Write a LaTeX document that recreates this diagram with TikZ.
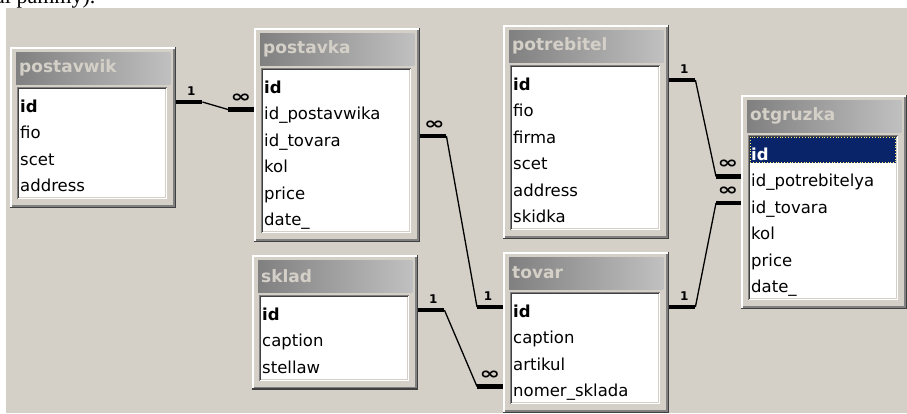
\documentclass[tikz,border=0pt]{standalone}
\usepackage{fontspec}
\usepackage{graphicx}
\setmainfont{DejaVu Sans}
\newfontfamily\docserif{Liberation Serif}
\usetikzlibrary{calc}

\definecolor{winbg}{HTML}{D4D0C8}
\definecolor{shadowgrey}{HTML}{808080}
\definecolor{darkshadow}{HTML}{404040}
\definecolor{capleft}{HTML}{808080}
\definecolor{capright}{HTML}{C0C0C0}
\definecolor{selbg}{HTML}{0A246A}

\newcommand\manysign{\scalebox{1.9}[1.3]{∞}}

\tikzset{
  tableframe/.style={inner sep=0pt, minimum width=166pt},
  listbox/.style={inner sep=0pt, minimum width=150pt, fill=white},
  tabletitle/.style={inner sep=0pt, text=winbg, font=\bfseries\fontsize{17}{17}\selectfont},
  rowtext/.style={inner sep=0pt, text width=146pt, align=left, text height=22pt, text depth=2pt,
    font=\fontsize{16.5}{18}\selectfont},
  relbar/.style={line width=4.5pt, line cap=butt, black},
  relline/.style={line width=1.3pt, black},
  cardone/.style={inner sep=0pt, font=\bfseries\fontsize{12}{12}\selectfont},
  cardmany/.style={inner sep=0pt, font=\bfseries\fontsize{13}{13}\selectfont},
}

% #1 name, #2 x, #3 y (top), #4 title, #5 number of rows, #6 rows, #7 selected row (0 = none)
\newcommand\dbtable[7]{%
  \pgfmathsetmacro\frameh{55+26.5*#5}%
  \pgfmathsetmacro\listh{26.5*#5+6}%
  \node[tableframe, minimum height=\frameh pt, anchor=north west] (#1) at (#2,#3) {};
  % raised window frame
  \fill[winbg] (#1.north west) rectangle (#1.south east);
  \draw[white, line width=1.5pt] ($(#1.south west)+(0.75,-1.5)$) |- ($(#1.north east)+(-1.5,0.75)$);
  \draw[darkshadow, line width=1.5pt] ($(#1.south west)+(0,-0.75)$) -| ($(#1.north east)+(-0.75,0)$);
  \draw[shadowgrey, line width=1.5pt] ($(#1.south west)+(1.5,-2.25)$) -| ($(#1.north east)+(-2.25,1.5)$);
  % caption bar
  \shade[left color=capleft, right color=capright] ($(#1.north west)+(6,5)$) rectangle ($(#1.north east)+(-6,37)$);
  \node[tabletitle, anchor=west] (#1-title) at ($(#1.north west)+(9,21)$) {#4};
  % sunken field list
  \node[listbox, minimum height=\listh pt, anchor=north west] (#1-list) at ($(#1.north west)+(7,40)$) {};
  \draw[white, line width=1pt] ($(#1-list.south west)+(0,-0.5)$) -| ($(#1-list.north east)+(-0.5,0)$);
  \draw[winbg, line width=1pt] ($(#1-list.south west)+(1,-1.5)$) -| ($(#1-list.north east)+(-1.5,1)$);
  \draw[shadowgrey, line width=1pt] ($(#1-list.south west)+(0.5,0)$) |- ($(#1-list.north east)+(0,0.5)$);
  \draw[darkshadow, line width=1pt] ($(#1-list.south west)+(1.5,-1)$) |- ($(#1-list.north east)+(-1,1.5)$);
  \foreach \txt [count=\i] in {#6} {
    \ifnum\i=#7
      \fill[selbg] ($(#1-list.north west)+(2,{2+26.5*(\i-1)})$) rectangle ++(146,26);
      \draw[yellow!55!white, dotted, line width=0.8pt] ($(#1-list.north west)+(2.4,{2.4+26.5*(\i-1)})$) rectangle ++(145.2,25.2);
      \def\rowcol{white}
    \else
      \def\rowcol{black}
    \fi
    \node[rowtext, text=\rowcol, anchor=west] (#1-\i) at ($(#1-list.north west)+(3,{15+26.5*(\i-1)})$)
      {\ifnum\i=1 \bfseries\fi\txt};
  }
}

\begin{document}
\begin{tikzpicture}[x=1pt, y=-1pt]
  \useasboundingbox (0,0) rectangle (907,413);
  \fill[white] (0,0) rectangle (907,413);
  \fill[winbg] (6,8) rectangle (907,413);
  % last line of the running text above the figure
  \begin{scope}
    \clip (0,0) rectangle (907,8);
    \node[anchor=base west, inner sep=0pt, font=\docserif\fontsize{22}{22}\selectfont] (runningtext) at (-5,3) {al pammy).};
  \end{scope}

  \dbtable{postavwik}{10}{47}{postavwik}{4}{id,fio,scet,address}{0}
  \dbtable{postavka}{254}{28}{postavka}{6}{id,id\_postavwika,id\_tovara,kol,price,date\_}{0}
  \dbtable{potrebitel}{503}{25}{potrebitel}{6}{id,fio,firma,scet,address,skidka}{0}
  \dbtable{otgruzka}{741}{95}{otgruzka}{6}{id,id\_potrebitelya,id\_tovara,kol,price,date\_}{1}
  \dbtable{sklad}{252}{255}{sklad}{3}{id,caption,stellaw}{0}
  \dbtable{tovar}{503}{252}{tovar}{4}{id,caption,artikul,nomer\_sklada}{0}

  % postavwik.id 1 -- oo postavka.id_postavwika
  \draw[relbar] (postavwik-1.east -| postavwik.east) -- ++(26,0) coordinate (r1a);
  \draw[relbar] (postavka-2.west -| postavka.west) -- ++(-26,0) coordinate (r1b);
  \draw[relline] (r1a) -- (r1b);
  \node[cardone] (r1-one) at ($(r1a)+(-11,-11)$) {1};
  \node[cardmany] (r1-many) at ($(r1b)+(13,-11)$) {\manysign};

  % postavka.id_tovara oo -- 1 tovar.id
  \draw[relbar] (postavka-3.east -| postavka.east) -- ++(26,0) coordinate (r2a);
  \draw[relbar] (tovar-1.west -| tovar.west) -- ++(-26,0) coordinate (r2b);
  \draw[relline] (r2a) -- (r2b);
  \node[cardmany] (r2-many) at ($(r2a)+(-12,-11)$) {\manysign};
  \node[cardone] (r2-one) at ($(r2b)+(11,-11)$) {1};

  % sklad.id 1 -- oo tovar.nomer_sklada
  \draw[relbar] (sklad-1.east -| sklad.east) -- ++(26,0) coordinate (r3a);
  \draw[relbar] (tovar-4.west -| tovar.west) -- ++(-26,0) coordinate (r3b);
  \draw[relline] (r3a) -- (r3b);
  \node[cardone] (r3-one) at ($(r3a)+(-11,-11)$) {1};
  \node[cardmany] (r3-many) at ($(r3b)+(13,-11)$) {\manysign};

  % potrebitel.id 1 -- oo otgruzka.id_potrebitelya
  \draw[relbar] (potrebitel-1.east -| potrebitel.east) -- ++(26,0) coordinate (r4a);
  \draw[relbar] (otgruzka-2.west -| otgruzka.west) -- ++(-25,0) coordinate (r4b);
  \draw[relline] (r4a) -- (r4b);
  \node[cardone] (r4-one) at ($(r4a)+(-11,-11)$) {1};
  \node[cardmany] (r4-many) at ($(r4b)+(12,-12)$) {\manysign};

  % tovar.id 1 -- oo otgruzka.id_tovara
  \draw[relbar] (tovar-1.east -| tovar.east) -- ++(26,0) coordinate (r5a);
  \draw[relbar] (otgruzka-3.west -| otgruzka.west) -- ++(-25,0) coordinate (r5b);
  \draw[relline] (r5a) -- (r5b);
  \node[cardone] (r5-one) at ($(r5a)+(-11,-11)$) {1};
  \node[cardmany] (r5-many) at ($(r5b)+(12,-12)$) {\manysign};
\end{tikzpicture}
\end{document}
